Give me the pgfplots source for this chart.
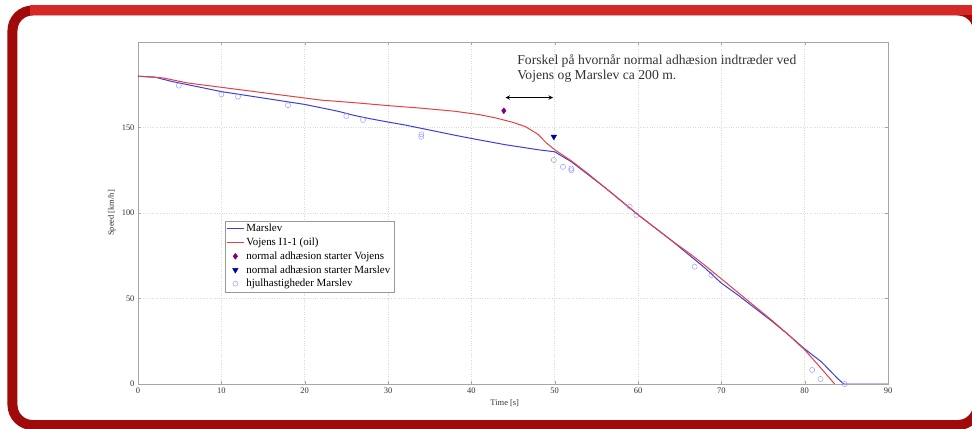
\documentclass[border=0pt]{standalone}
\usepackage{fontspec}
\setmainfont{Liberation Serif}
\usepackage{pgfplots}
\pgfplotsset{compat=1.18}
\definecolor{mblue}{RGB}{60,60,225}
\definecolor{vred}{RGB}{232,64,64}
\definecolor{mpurple}{RGB}{128,0,128}
\definecolor{mdblue}{RGB}{0,0,160}
\definecolor{mcirc}{RGB}{140,140,255}
\definecolor{frdark}{RGB}{160,10,10}
\definecolor{frlight}{RGB}{215,40,40}
\begin{document}
\begin{tikzpicture}
\useasboundingbox (-138bp,-45bp) rectangle (834bp,384bp);
\clip (-138bp,-45bp) rectangle (834bp,384bp);
\fill[white] (-138bp,-45bp) rectangle (834bp,384bp);
\begin{axis}[
  at={(0,0)}, anchor=south west,
  scale only axis, width=750bp, height=342bp,
  xmin=0, xmax=90, ymin=0, ymax=200,
  xtick={0,10,...,90}, ytick={0,50,100,150},
  grid=major,
  major grid style={dotted, gray!30},
  axis line style={gray!70},
  tick style={gray!70},
  tick align=inside,
  major tick length=3bp,
  /pgf/number format/assume math mode=true,
  ticklabel style={font=\fontsize{8.5}{10}\selectfont, text=black!80},
  xlabel={Time [s]}, ylabel={Speed [km/h]},
  label style={font=\fontsize{8.5}{10}\selectfont, text=black!80},
  xlabel style={at={(axis description cs:0.489,-0.056)}, anchor=center},
  ylabel style={at={(axis description cs:-0.035,0.5)}, anchor=center},
  legend style={at={(axis cs:10.4,95.5)}, anchor=north west, draw=gray!80,
    font=\fontsize{11}{12}\selectfont, inner sep=1.5bp, row sep=0.6bp},
  legend cell align=left,
]
\addplot[mblue, line width=1bp] coordinates {
(0,180)(2,179.5)(4,177)(6,175)(8,173)(10,171)(12,169.5)(14,168)(16,166.5)(18,165)
(20,163.5)(22,161.5)(24,159.5)(26,157)(28,155)(30,153.2)(32,151.5)(34,149.5)(36,147.5)
(38,145.5)(40,143.6)(42,141.8)(44,140)(46,138.5)(48,137)(50,135.8)(52,130)(54,122.5)
(56,115)(58,107)(60,99)(62,91.5)(64,84)(66,76)(68,68)(70,59)(72,52)(74,44.5)(76,37)
(78,29)(80,20.5)(82,13)(84,3)(84.7,0)(90,0)};
\addlegendentry{Marslev}
\addplot[vred, line width=1bp] coordinates {
(0,180)(3,179)(6,176)(10,173.5)(14,171)(18,168.5)(22,166)(26,164.5)(30,162.8)
(34,161.3)(38,159.5)(41,157.5)(43,155.5)(45,153)(46.5,150.5)(48,146)(49,141)(50,137)
(52,130.5)(54,123)(56,115)(58,107)(60,99)(62,91.5)(64,84)(66,77)(68,69.5)(70,61.5)
(72,53.5)(74,45.5)(76,37.5)(78,29)(80,20)(82,9)(83.6,0)};
\addlegendentry{Vojens I1-1 (oil)}
\addplot[only marks, mark=diamond*, mark size=3bp, color=mpurple] coordinates {(43.9,159.8)};
\addlegendentry{normal adhæsion starter Vojens}
\addplot[only marks, mark=triangle*, mark size=3.2bp, color=mdblue, mark options={rotate=180}] coordinates {(49.9,144.6)};
\addlegendentry{normal adhæsion starter Marslev}
\addplot[only marks, mark=o, mark size=2.6bp, color=mcirc] coordinates {
(4.9,174.5)(10,169.4)(12,168)(18,163)(25,156.7)(27,154.4)(34,146)(34,144.6)
(49.9,131)(51,127)(52,126)(52,125)(59,103.7)(59.8,98.8)(66.8,68.6)(68.8,63.7)
(80.9,8.2)(81.9,2.9)(84.8,0)};
\addlegendentry{hjulhastigheder Marslev}
\addplot[<->, >=stealth, black, line width=1bp, forget plot] coordinates {(44.1,167.5)(49.8,167.5)};
\node[anchor=north west, align=left, font=\fontsize{13.7}{15.5}\selectfont, text=black!80, inner sep=0pt]
  at (axis cs:45.5,193) {Forskel på hvornår normal adhæsion indtræder ved\\Vojens og Marslev ca 200 m.};
\end{axis}
\draw[frdark, line width=10bp, rounded corners=20bp] (-125.5bp,373.5bp) rectangle (840bp,-41bp);
\draw[frlight, line width=10bp] (-108bp,373.5bp) -- (840bp,373.5bp);
\end{tikzpicture}
\end{document}
